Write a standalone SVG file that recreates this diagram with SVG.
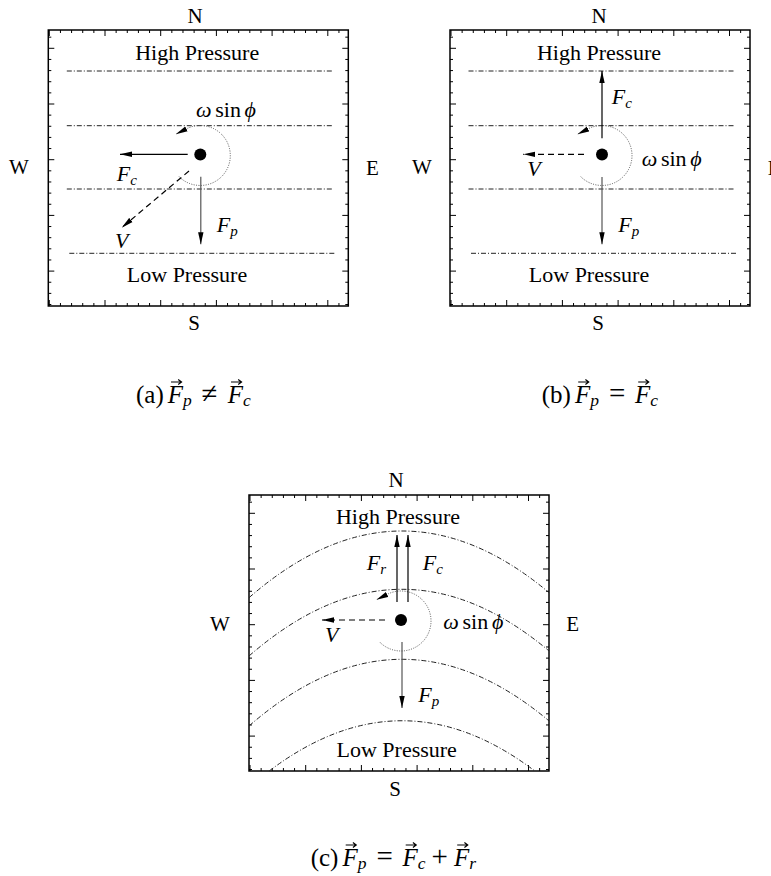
<svg xmlns="http://www.w3.org/2000/svg" width="771" height="876" viewBox="0 0 771 876">
<style>
text{font-family:"Liberation Serif","Times New Roman","DejaVu Serif",serif;fill:#000}
.lbl{font-size:22px}
.dir{font-size:21px}
.cap{font-size:25px}
.rel{font-size:29px}
.it{font-style:italic}
.sub{font-size:15px}
.csub{font-size:17.5px;font-style:italic}
.mid{text-anchor:middle}
.ws{word-spacing:-1.8px}
.frame{fill:none;stroke:#000;stroke-width:1.5}
.ticks{fill:none;stroke:#000;stroke-width:1}
.iso{fill:none;stroke:#222;stroke-width:1;stroke-dasharray:5 2 1 2}
.rot{fill:none;stroke:#555;stroke-width:1;stroke-dasharray:1 1.4;marker-end:url(#ah)}
.force{fill:none;stroke:#000;stroke-width:1.2;marker-end:url(#ah)}
.fp{stroke:#555}
.vel{fill:none;stroke:#000;stroke-width:1.2;stroke-dasharray:6 4;marker-end:url(#ah)}
.dot{fill:#000}
.vec{fill:none;stroke:#000;stroke-width:1.2}
</style>
<defs>
<marker id="ah" viewBox="0 0 12 6" refX="12" refY="3" markerWidth="12" markerHeight="6" markerUnits="userSpaceOnUse" orient="auto">
<path d="M0,0.3 L12,3 L0,5.7 Z" fill="#000"/>
</marker>
<path id="ticks" class="ticks" d="M1 0v6M12.14 0v3M23.28 0v3M34.42 0v3M45.56 0v3M56.7 0v6M67.84 0v3M78.98 0v3M90.12 0v3M101.26 0v3M112.4 0v6M123.54 0v3M134.68 0v3M145.82 0v3M156.96 0v3M168.1 0v6M179.24 0v3M190.38 0v3M201.52 0v3M212.66 0v3M223.8 0v6M234.94 0v3M246.08 0v3M257.22 0v3M268.36 0v3M279.5 0v6M290.64 0v3
M1 276v-6M12.14 276v-3M23.28 276v-3M34.42 276v-3M45.56 276v-3M56.7 276v-6M67.84 276v-3M78.98 276v-3M90.12 276v-3M101.26 276v-3M112.4 276v-6M123.54 276v-3M134.68 276v-3M145.82 276v-3M156.96 276v-3M168.1 276v-6M179.24 276v-3M190.38 276v-3M201.52 276v-3M212.66 276v-3M223.8 276v-6M234.94 276v-3M246.08 276v-3M257.22 276v-3M268.36 276v-3M279.5 276v-6M290.64 276v-3
M0 7.16h3M0 18.3h6M0 29.44h3M0 40.58h3M0 51.72h3M0 62.86h3M0 74h6M0 85.14h3M0 96.28h3M0 107.42h3M0 118.56h3M0 129.7h6M0 140.84h3M0 151.98h3M0 163.12h3M0 174.26h3M0 185.4h6M0 196.54h3M0 207.68h3M0 218.82h3M0 229.96h3M0 241.1h6M0 252.24h3M0 263.38h3M0 274.52h3
M300 7.16h-3M300 18.3h-6M300 29.44h-3M300 40.58h-3M300 51.72h-3M300 62.86h-3M300 74h-6M300 85.14h-3M300 96.28h-3M300 107.42h-3M300 118.56h-3M300 129.7h-6M300 140.84h-3M300 151.98h-3M300 163.12h-3M300 174.26h-3M300 185.4h-6M300 196.54h-3M300 207.68h-3M300 218.82h-3M300 229.96h-3M300 241.1h-6M300 252.24h-3M300 263.38h-3M300 274.52h-3"/>
<path id="vec" class="vec" d="M0 0H10M7.2 -2.4L10.5 0L7.2 2.4"/>
</defs>

<!-- Panel (a) -->
<g id="panel-a" transform="translate(48.3,30)">
  <g id="a-frame"><rect class="frame" width="300" height="276"/><use href="#ticks"/></g>
  <g id="a-isobars">
    <path class="iso" d="M18.5 41H284.5"/>
    <path class="iso" d="M18.5 95.7H284.5"/>
    <path class="iso" d="M18.5 159H284.5"/>
    <path class="iso" d="M21 223.3H286.5"/>
  </g>
  <g id="a-parcel"><circle class="dot" cx="152" cy="124.5" r="6"/></g>
  <g id="a-labels">
    <text class="lbl mid" x="148.9" y="30">High Pressure</text>
    <text class="lbl mid" x="138.7" y="252.3">Low Pressure</text>
    <text class="dir mid" x="146.7" y="-7.3">N</text>
    <text class="dir mid" x="145.7" y="300">S</text>
    <text class="dir mid" x="-29.3" y="144">W</text>
    <text class="dir" x="317.7" y="145">E</text>
    <text class="lbl ws" x="147.7" y="87"><tspan class="it">ω</tspan> sin <tspan class="it">ϕ</tspan></text>
    <text class="lbl it" x="68.4" y="151">F<tspan class="sub" dy="4">c</tspan></text>
    <text class="lbl it" x="168.4" y="202">F<tspan class="sub" dy="4">p</tspan></text>
    <text class="lbl it" x="66.7" y="218.3">V</text>
  </g>
</g>

<!-- Panel (b) -->
<g id="panel-b" transform="translate(450,30)">
  <g id="b-frame"><rect class="frame" width="300" height="276"/><use href="#ticks"/></g>
  <g id="b-isobars">
    <path class="iso" d="M18.5 41H284.5"/>
    <path class="iso" d="M18.5 95.7H284.5"/>
    <path class="iso" d="M18.5 159H284.5"/>
    <path class="iso" d="M21 223.3H286.5"/>
  </g>
  <g id="b-parcel"><circle class="dot" cx="152" cy="124.5" r="6"/></g>
  <g id="b-labels">
    <text class="lbl mid" x="149" y="30">High Pressure</text>
    <text class="lbl mid" x="139" y="252.3">Low Pressure</text>
    <text class="dir mid" x="149" y="-7.3">N</text>
    <text class="dir mid" x="148" y="300">S</text>
    <text class="dir mid" x="-28" y="144">W</text>
    <text class="dir" x="317.7" y="145">E</text>
    <text class="lbl ws" x="191.7" y="135.7"><tspan class="it">ω</tspan> sin <tspan class="it">ϕ</tspan></text>
    <text class="lbl it" x="161.7" y="74">F<tspan class="sub" dy="4">c</tspan></text>
    <text class="lbl it" x="168.3" y="201.7">F<tspan class="sub" dy="4">p</tspan></text>
    <text class="lbl it" x="77.3" y="146">V</text>
  </g>
</g>

<!-- Panel (c) -->
<g id="panel-c" transform="translate(249,495)">
  <g id="c-frame"><rect class="frame" width="300" height="276"/><use href="#ticks"/></g>
  <g id="c-isobars">
    <path class="iso" d="M0 102.7Q150 -28.1 300 97.6"/>
    <path class="iso" d="M0 161Q150 30.2 300 155.9"/>
    <path class="iso" d="M0 231Q150 100.2 300 225.9"/>
    <path class="iso" d="M20.2 276Q153 175.5 285.8 276"/>
  </g>
  <g id="c-parcel"><circle class="dot" cx="152" cy="125" r="6"/></g>
  <g id="c-labels">
    <text class="lbl mid" x="149" y="29">High Pressure</text>
    <text class="lbl mid" x="147.7" y="261.7">Low Pressure</text>
    <text class="dir mid" x="147" y="-8.3">N</text>
    <text class="dir mid" x="146" y="300.5">S</text>
    <text class="dir mid" x="-29" y="135.7">W</text>
    <text class="dir" x="317.3" y="136">E</text>
    <text class="lbl ws" x="194.3" y="134.3"><tspan class="it">ω</tspan> sin <tspan class="it">ϕ</tspan></text>
    <text class="lbl it" x="117.7" y="75">F<tspan class="sub" dy="4">r</tspan></text>
    <text class="lbl it" x="173.7" y="75">F<tspan class="sub" dy="4">c</tspan></text>
    <text class="lbl it" x="169.3" y="207.3">F<tspan class="sub" dy="4">p</tspan></text>
    <text class="lbl it" x="76" y="146.7">V</text>
  </g>
</g>

<!-- Connectors (force, velocity and rotation arrows) -->
<g id="connectors">
  <g id="a-arrows" transform="translate(48.3,30)">
    <path class="rot" d="M130.8 146.7A30 30 0 1 0 139.3 98.3L127.4 104.3"/>
    <path class="force" d="M139.4 124.3H71.7"/>
    <path class="force fp" d="M152.5 146.7V214.3"/>
    <path class="vel" d="M140.7 141L73.4 197.7"/>
  </g>
  <g id="b-arrows" transform="translate(450,30)">
    <path class="rot" d="M130.8 146.7A30 30 0 1 0 139.3 98.3L127.4 104.3"/>
    <path class="force" d="M152 108.3V41"/>
    <path class="force fp" d="M152 147V214.3"/>
    <path class="vel" d="M134 124.3H73.3"/>
  </g>
  <g id="c-arrows" transform="translate(249,495)">
    <path class="rot" d="M130.8 147.2A30 30 0 1 0 139.3 98.8L127.4 104.8"/>
    <path class="force" d="M148 107V40"/>
    <path class="force" d="M159 107V40"/>
    <path class="force fp" d="M153 147V213"/>
    <path class="vel" d="M136 125H73"/>
  </g>
</g>

<!-- Captions -->
<g id="caption-a">
  <text class="cap"><tspan x="136" y="403">(a)</tspan><tspan class="it" x="167.8" y="403">F</tspan><tspan class="csub" x="183.1" y="406">p</tspan><tspan class="rel" x="201.6" y="403">≠</tspan><tspan class="it" x="227.8" y="403">F</tspan><tspan class="csub" x="243.1" y="406">c</tspan></text>
  <use href="#vec" x="171" y="382"/><use href="#vec" x="231" y="382"/>
</g>
<g id="caption-b">
  <text class="cap"><tspan x="541.8" y="403">(b)</tspan><tspan class="it" x="575" y="403">F</tspan><tspan class="csub" x="590.3" y="406">p</tspan><tspan class="rel" x="608.9" y="403">=</tspan><tspan class="it" x="635" y="403">F</tspan><tspan class="csub" x="650.3" y="406">c</tspan></text>
  <use href="#vec" x="578.2" y="382"/><use href="#vec" x="638.2" y="382"/>
</g>
<g id="caption-c">
  <text class="cap"><tspan x="310.7" y="866">(c)</tspan><tspan class="it" x="342.5" y="866">F</tspan><tspan class="csub" x="357.8" y="869">p</tspan><tspan class="rel" x="376.4" y="866">=</tspan><tspan class="it" x="402.5" y="866">F</tspan><tspan class="csub" x="417.8" y="869">c</tspan><tspan class="rel" x="431.4" y="866">+</tspan><tspan class="it" x="454" y="866">F</tspan><tspan class="csub" x="469.3" y="869">r</tspan></text>
  <use href="#vec" x="345.7" y="845"/><use href="#vec" x="405.7" y="845"/><use href="#vec" x="457.2" y="845"/>
</g>
</svg>
